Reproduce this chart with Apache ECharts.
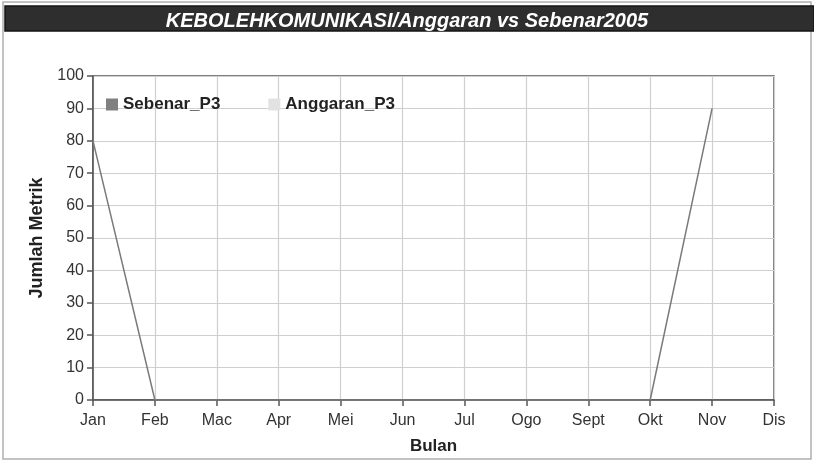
<!DOCTYPE html>
<html>
<head>
<meta charset="utf-8">
<script src="https://cdn.jsdelivr.net/npm/echarts@6/dist/echarts.min.js"></script>
<style>
html,body{margin:0;padding:0;background:#fff;}
#chart{width:814px;height:461px;}
</style>
</head>
<body>
<div id="chart"></div>
<script>
const titleText = 'KEBOLEHKOMUNIKASI/Anggaran vs Sebenar2005';
const months = ['Jan','Feb','Mac','Apr','Mei','Jun','Jul','Ogo','Sept','Okt','Nov','Dis'];
const seriesNames = ['Sebenar_P3','Anggaran_P3'];
const sebenar = [80, 0, 0, 0, 0, 0, 0, 0, 0, 0, 90, null];
const anggaran = [null, null, null, null, null, null, null, null, null, null, null, null];
const yTicks = [0, 10, 20, 30, 40, 50, 60, 70, 80, 90, 100];

const chart = echarts.init(document.getElementById('chart'), null, {renderer:'canvas'});
const font = '"Liberation Sans", Arial, sans-serif';
chart.setOption({
  animation: false,
  backgroundColor: '#fff',
  graphic: [
    {type:'rect', z:-10, shape:{x:3, y:2, width:808, height:457}, style:{fill:'#fff', stroke:'#b0b0b0', lineWidth:1.5}},
    {type:'rect', z:-5, shape:{x:5, y:6, width:809, height:25}, style:{fill:'#2e2e2e', stroke:'#141414', lineWidth:1.5}}
  ],
  title: {
    text: titleText,
    left: 'center',
    top: 6,
    textStyle: {color:'#fff', fontSize:20, fontStyle:'italic', fontWeight:'bold', fontFamily:font}
  },
  legend: {
    data: seriesNames,
    left: 101,
    top: 91,
    icon: 'rect',
    itemWidth: 12,
    itemHeight: 12,
    itemGap: 48,
    textStyle: {fontSize:17, fontWeight:'bold', color:'#222', fontFamily:font}
  },
  grid: {left:93, right:40, top:76, bottom:61, show:true, borderColor:'#555', borderWidth:1.5, backgroundColor:'transparent'},
  xAxis: {
    type: 'category',
    data: months,
    boundaryGap: false,
    name: 'Bulan',
    nameLocation: 'middle',
    nameGap: 38,
    nameTextStyle: {fontSize:17, fontWeight:'bold', color:'#222', fontFamily:font},
    axisLine: {lineStyle:{color:'#555', width:1.5}},
    axisTick: {show:true, length:6, lineStyle:{color:'#555', width:1.5}},
    axisLabel: {fontSize:16, color:'#333', margin:13, fontFamily:font},
    splitLine: {show:true, lineStyle:{color:'#cfcfcf', width:1.2}}
  },
  yAxis: {
    type: 'value',
    min: yTicks[0],
    max: yTicks[yTicks.length-1],
    interval: 10,
    name: 'Jumlah Metrik',
    nameLocation: 'middle',
    nameRotate: 90,
    nameGap: 47,
    nameTextStyle: {fontSize:18, fontWeight:'bold', color:'#222', fontFamily:font},
    axisLine: {show:true, lineStyle:{color:'#555', width:1.5}},
    axisTick: {show:true, length:6, lineStyle:{color:'#555', width:1.5}},
    axisLabel: {fontSize:16, color:'#333', margin:9, fontFamily:font},
    splitLine: {show:true, lineStyle:{color:'#cfcfcf', width:1.2}}
  },
  series: [
    {name:seriesNames[0], type:'line', data:sebenar, symbol:'none', itemStyle:{color:'#808080'}, lineStyle:{color:'#7a7a7a', width:1.5}, z:3},
    {name:seriesNames[1], type:'line', data:anggaran, symbol:'none', itemStyle:{color:'#e2e2e2'}, lineStyle:{color:'#dcdcdc', width:1.5}}
  ]
});
</script>
</body>
</html>
